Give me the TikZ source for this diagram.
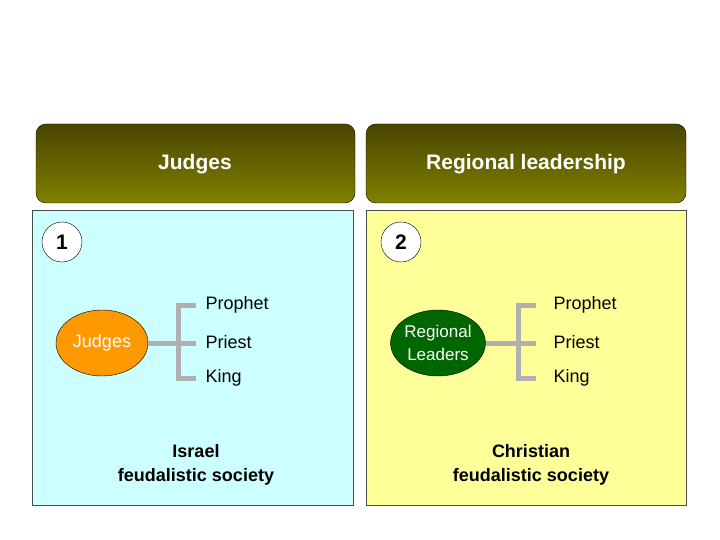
\documentclass[tikz,border=0pt]{standalone}
\usepackage{fontspec}
\setmainfont{Liberation Sans}
\usetikzlibrary{shapes.geometric}
\definecolor{oliveT}{HTML}{4A4500}
\definecolor{oliveB}{HTML}{808000}
\definecolor{cyanP}{HTML}{CCFFFF}
\definecolor{yelP}{HTML}{FFFF99}
\definecolor{orgE}{HTML}{FF9900}
\definecolor{grnE}{HTML}{006600}
\definecolor{brk}{HTML}{B0B0B0}
\begin{document}
\begin{tikzpicture}[x=1pt,y=-1pt,
  header/.style={draw=black,rounded corners=10pt,top color=oliveT,bottom color=oliveB},
  htext/.style={text=white,font=\bfseries\fontsize{21}{24}\selectfont},
  panel/.style={draw=black!70},
  num/.style={circle,draw,fill=white,minimum size=40pt,inner sep=0pt,font=\bfseries\fontsize{21}{24}\selectfont},
  oval/.style={ellipse,draw,minimum width=92pt,minimum height=66pt,inner sep=0pt,font=\fontsize{18}{21}\selectfont},
  item/.style={anchor=west,font=\fontsize{18}{21}\selectfont},
  brline/.style={draw=brk,line width=5pt},
  bottom/.style={align=center,font=\bfseries\fontsize{18}{24}\selectfont}]
\useasboundingbox (0,0) rectangle (720,540);
\fill[white] (0,0) rectangle (720,540);
% headers
\path[header] (36,124) rectangle (355,203);
\path[header] (366,124) rectangle (686,203);
\node[htext] (h1) at (195,164) {Judges};
\node[htext] (h2) at (526,164) {Regional leadership};
% panels
\path[panel,fill=cyanP] (32,210) rectangle (353,505);
\path[panel,fill=yelP] (366,210) rectangle (686,505);
\node[num] (n1) at (62,242) {1};
\node[num] (n2) at (401,242) {2};
% left
\node[oval,fill=orgE,text=white] (e1) at (102,343) {Judges};
\coordinate (b1) at (178,343);
\draw[brline] (e1.east) -- (b1);
\draw[brline] (196,305) -- (178,305) -- (178,378) -- (196,378);
\draw[brline] (b1) -- (196,343);
\node[item] (p1) at (202,305) {Prophet};
\node[item] (q1) at (202,342) {Priest};
\node[item] (k1) at (202,378) {King};
\node[bottom] (s1) at (196,465) {Israel\\feudalistic society};
% right
\node[oval,fill=grnE,text=white,align=center,font=\fontsize{17}{23}\selectfont] (e2) at (438,343) {Regional\\Leaders};
\coordinate (b2) at (518,343);
\draw[brline] (e2.east) -- (b2);
\draw[brline] (536,305) -- (518,305) -- (518,378) -- (536,378);
\draw[brline] (b2) -- (536,343);
\node[item] (p2) at (550,305) {Prophet};
\node[item] (q2) at (550,342) {Priest};
\node[item] (k2) at (550,378) {King};
\node[bottom] (s2) at (531,465) {Christian\\feudalistic society};
\end{tikzpicture}
\end{document}
